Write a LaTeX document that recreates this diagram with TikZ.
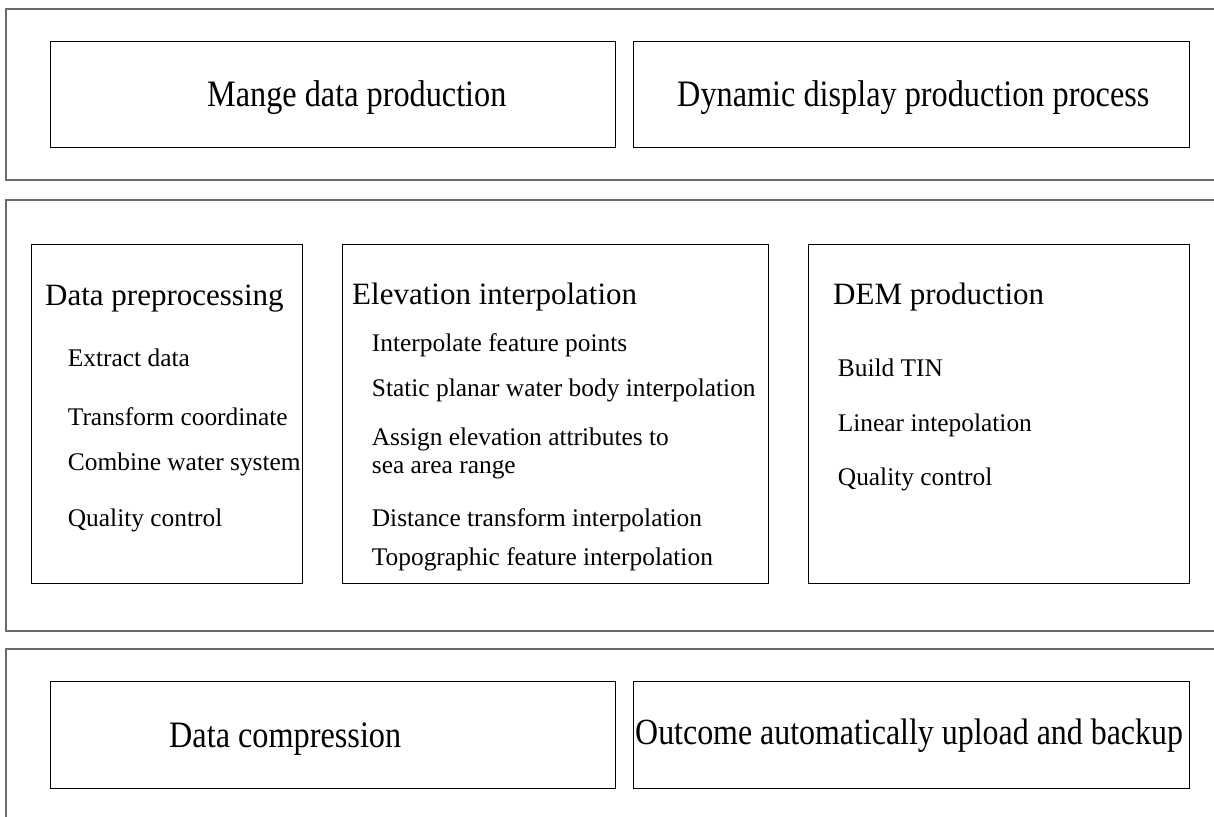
\documentclass[tikz,border=0pt]{standalone}
\usepackage{fontspec}
\setmainfont{Liberation Serif}
\newfontfamily\bigserif[FakeStretch=0.865]{Liberation Serif}
\begin{document}
\begin{tikzpicture}[x=1pt, y=-1pt,
    layer/.style={draw=black!58, line width=1.8pt},
    panel/.style={draw=black, line width=1.2pt, anchor=north west, inner sep=0pt},
    bigtext/.style={anchor=base west, inner sep=0pt,
      font=\bigserif\fontsize{37.3}{40}\selectfont},
    headtext/.style={anchor=base west, inner sep=0pt,
      font=\fontsize{31}{34}\selectfont},
    itemtext/.style={anchor=base west, inner sep=0pt,
      font=\fontsize{25.4}{28.3}\selectfont},
  ]
  \useasboundingbox (0,0) rectangle (1214,816);
  \clip (0,0) rectangle (1214,816);
  % three layers
  \draw[layer] (6,8.7) rectangle (1240,180);
  \draw[layer] (6,200) rectangle (1240,631);
  \draw[layer] (6,649) rectangle (1240,830);

  % top layer
  \node[panel, minimum width=565, minimum height=106] (mange) at (50,41) {};
  \node[panel, minimum width=556, minimum height=106] (dynamic) at (633,41) {};
  \node[bigtext] (mangelab) at (207,106) {Mange data production};
  \node[bigtext] (dynamiclab) at (677,106) {Dynamic display production process};

  % middle layer
  \node[panel, minimum width=270.5, minimum height=339] (prep) at (31,244) {};
  \node[panel, minimum width=426, minimum height=339] (elev) at (342,244) {};
  \node[panel, minimum width=381, minimum height=339] (dem) at (808,244) {};

  \node[headtext] (preplab) at (45,305.7) {Data preprocessing};
  \node[itemtext] (prep1) at (67.7,366.7) {Extract data};
  \node[itemtext] (prep2) at (67.7,425) {Transform coordinate};
  \node[itemtext] (prep3) at (67.7,470) {Combine water system};
  \node[itemtext] (prep4) at (67.7,526.7) {Quality control};

  \node[headtext] (elevlab) at (352,304) {Elevation interpolation};
  \node[itemtext] (elev1) at (371.7,351.7) {Interpolate feature points};
  \node[itemtext] (elev2) at (371.7,396.7) {Static planar water body interpolation};
  \node[itemtext] (elev3) at (371.7,445) {\begin{tabular}[t]{@{}l@{}}Assign elevation attributes to\\ sea area range\end{tabular}};
  \node[itemtext] (elev4) at (371.7,526) {Distance transform interpolation};
  \node[itemtext] (elev5) at (371.7,565) {Topographic feature interpolation};

  \node[headtext] (demlab) at (833,304) {DEM production};
  \node[itemtext] (dem1) at (837.7,376.7) {Build TIN};
  \node[itemtext] (dem2) at (837.7,431.7) {Linear intepolation};
  \node[itemtext] (dem3) at (837.7,485.7) {Quality control};

  % bottom layer
  \node[panel, minimum width=565, minimum height=107] (compress) at (50,681) {};
  \node[panel, minimum width=556, minimum height=107] (upload) at (633,681) {};
  \node[bigtext] (compresslab) at (169,747) {Data compression};
  \node[bigtext, font=\bigserif\fontsize{36.9}{40}\selectfont] (uploadlab) at (635,744) {Outcome automatically upload and backup};
\end{tikzpicture}
\end{document}
